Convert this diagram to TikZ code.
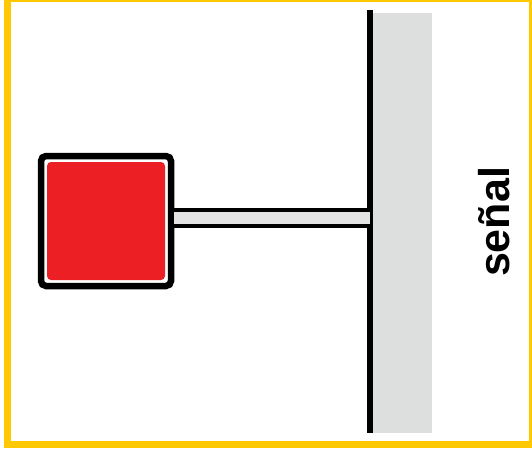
\documentclass[tikz,border=0pt]{standalone}
\usepackage{fontspec}
\setmainfont{Liberation Sans}
\usetikzlibrary{positioning,calc}
\definecolor{cFrame}{RGB}{255,200,  0}
\definecolor{cSign} {RGB}{236, 32, 36}
\definecolor{cWall} {RGB}{221,223,222}
\definecolor{cBar}  {RGB}{227,227,227}
\tikzset{
  frame/.style  = {draw=cFrame, line width=7pt},
  wall/.style   = {fill=cWall, draw=none},
  pole/.style   = {draw=black, line width=6pt},
  sign/.style   = {rectangle, draw=black, fill=white, line width=6.5pt,
                   rounded corners=5pt, minimum size=130pt, inner sep=0pt,
                   path picture={\fill[cSign, rounded corners=4pt]
                     ($(path picture bounding box.south west)+(6pt,6pt)$)
                     rectangle
                     ($(path picture bounding box.north east)+(-6pt,-6pt)$);}},
  arm/.style    = {draw=black, line width=4pt, double=cBar,
                   double distance=12pt},
  lbl/.style    = {rotate=90, inner sep=0pt,
                   font=\fontsize{43}{43}\selectfont\bfseries},
}

\begin{document}
\begin{tikzpicture}[x=1pt, y=-1pt]
  \clip (0,0) rectangle (532,452);
  \useasboundingbox (0,0) rectangle (532,452);

  %% ---------------- wall and pole ------------------------------------
  \fill[wall] (373,13) rectangle (432,433);
  \coordinate (top) at (370,10);
  \coordinate (bot) at (370,433);
  \draw[pole] (top) -- (bot);

  %% ---------------- sign on its arm ----------------------------------
  \node[sign] (red) at (106,221) {};
  \coordinate (foot) at ($(red.east)+(0,-3)$);
  \draw[arm] (foot) -- (foot -| top);

  \node[lbl] (name) at (494,222) {señal};

  % frame, partly cut off at the top and right
  \draw[frame] (7.5,-1.5) rectangle (532.5,444.5);
\end{tikzpicture}
\end{document}
